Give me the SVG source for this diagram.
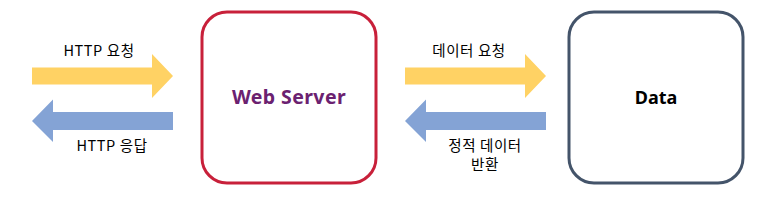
<svg xmlns="http://www.w3.org/2000/svg" width="765" height="202" viewBox="0 0 765 202">
<style>
.lbl{font-family:"Noto Sans CJK KR","Noto Sans",sans-serif;font-size:14.5px;letter-spacing:0.6px;fill:#000;text-anchor:middle}
.title{font-family:"Noto Sans","Noto Sans CJK KR",sans-serif;font-size:18px;font-weight:bold;text-anchor:middle}
.req{fill:#FFD264}
.res{fill:#84A3D5}
</style>
<rect width="765" height="202" fill="#fff"/>
<g id="connectors">
<polygon class="req" points="32,67.5 152,67.5 152,54 173,76 152,98 152,84.5 32,84.5"/>
<polygon class="res" points="173,112 53,112 53,99.5 32,121 53,142 53,130 173,130"/>
<polygon class="req" points="405,67.5 525,67.5 525,54 546,76 525,98 525,84.5 405,84.5"/>
<polygon class="res" points="546,112 426,112 426,99.5 405,121 426,142 426,130 546,130"/>
<text class="lbl" x="99" y="56">HTTP 요청</text>
<text class="lbl" x="112" y="151">HTTP 응답</text>
<text class="lbl" x="469" y="56">데이터 요청</text>
<text class="lbl" x="485" y="151">정적 데이터</text>
<text class="lbl" x="485" y="170">반환</text>
</g>
<g id="web-server">
<rect x="202" y="12" width="174" height="171" rx="25" ry="25" fill="#fff" stroke="#C8203A" stroke-width="3"/>
<text class="title" x="289" y="104" fill="#6B2170" style="font-size:19.5px;letter-spacing:0.4px">Web Server</text>
</g>
<g id="data">
<rect x="569" y="12" width="174" height="171" rx="25" ry="25" fill="#fff" stroke="#44546A" stroke-width="3"/>
<text class="title" x="656" y="104" fill="#000">Data</text>
</g>
</svg>
